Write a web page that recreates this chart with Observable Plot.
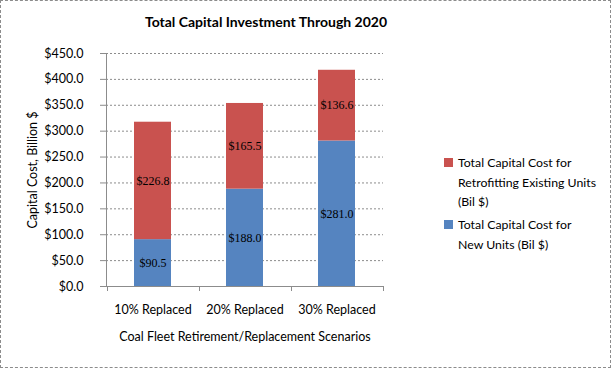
<!DOCTYPE html>
<html>
<head>
<meta charset="utf-8">
<script src="https://cdn.jsdelivr.net/npm/d3@7"></script>
<script src="https://cdn.jsdelivr.net/npm/@observablehq/plot@0.6"></script>
<style>
  html, body { margin: 0; padding: 0; background: #fff; }
  #wrap { position: relative; width: 612px; height: 369px; overflow: hidden; font-family: Lato, "Open Sans", sans-serif; }
  #border { position: absolute; left: 0; top: 0; width: 609px; height: 366px; border: 1px dashed #8c8c8c; box-sizing: content-box; pointer-events: none; }
  #title { position: absolute; left: 0; width: 532px; top: 13px; text-align: center; font-size: 14px; font-weight: bold; color: #000; }
  #chart { position: absolute; left: 0; top: 0; }
  .leg { position: absolute; left: 444px; font-size: 12.3px; color: #000; line-height: 19.5px; width: 165px; }
  .leg .sw { position: absolute; left: 0; top: 5px; width: 9px; height: 9px; }
  .leg .tx { margin-left: 14px; }
</style>
</head>
<body>
<div id="wrap">
  <div id="chart"></div>
  <div id="title"></div>
  <div id="legend"></div>
  <div id="border"></div>
</div>
<script>
const title = "Total Capital Investment Through 2020";
const scenarios = ["10% Replaced", "20% Replaced", "30% Replaced"];
const newUnits = [90.5, 188.0, 281.0];
const retrofit = [226.8, 165.5, 136.6];
const seriesNames = ["Total Capital Cost for New Units (Bil $)", "Total Capital Cost for Retrofitting Existing Units (Bil $)"];
const seriesColors = ["#5584c0", "#c9524f"];
const yTicks = [0, 50, 100, 150, 200, 250, 300, 350, 400, 450];
const yLabel = "Capital Cost, Billion $";
const xLabel = "Coal Fleet Retirement/Replacement Scenarios";

const rows = [];
scenarios.forEach((s, i) => {
  rows.push({scenario: s, series: seriesNames[0], value: newUnits[i]});
  rows.push({scenario: s, series: seriesNames[1], value: retrofit[i]});
});

document.getElementById("title").textContent = title;

// Axis lines and category-boundary tick marks drawn from the scales
function axesMark(index, scales, values, dims) {
  const g = d3.create("svg:g");
  const x0 = dims.marginLeft, x1 = dims.width - dims.marginRight;
  const yb = scales.y(0), yt = scales.y(450);
  g.append("line").attr("x1", x0 + 0.5).attr("x2", x0 + 0.5).attr("y1", yt).attr("y2", yb).attr("stroke", "#8c8c8c");
  g.append("line").attr("x1", x0).attr("x2", x1).attr("y1", yb + 0.5).attr("y2", yb + 0.5).attr("stroke", "#8c8c8c");
  const step = scales.x(scenarios[1]) - scales.x(scenarios[0]);
  const bw = scales.x.bandwidth ? scales.x.bandwidth() : 0;
  const start = scales.x(scenarios[0]) - (step - bw) / 2;
  for (let k = 0; k <= scenarios.length; k++) {
    const xx = Math.round(start + k * step) + 0.5;
    g.append("line").attr("x1", xx).attr("x2", xx).attr("y1", yb).attr("y2", yb + 5).attr("stroke", "#8c8c8c");
  }
  return g.node();
}

const chart = Plot.plot({
  width: 400,
  height: 369,
  marginLeft: 106,
  marginRight: 17,
  marginTop: 53,
  marginBottom: 83,
  style: {fontFamily: "Lato, 'Open Sans', sans-serif", fontSize: "12px", color: "#000", background: "transparent"},
  x: {domain: scenarios, paddingInner: 0.6, paddingOuter: 0.3, label: null},
  y: {domain: [0, 450], label: null},
  color: {domain: seriesNames, range: seriesColors},
  marks: [
    Plot.gridY(yTicks.slice(1), {stroke: "#8c8c8c", strokeOpacity: 1, strokeDasharray: "2,2"}),
    Plot.barY(rows, Plot.stackY({x: "scenario", y: "value", fill: "series", z: "series", order: seriesNames})),
    Plot.text(rows, Plot.stackY({x: "scenario", y: "value", z: "series", order: seriesNames, text: d => "$" + d.value.toFixed(1), fill: "#000", fontSize: 12, fontFamily: "'Liberation Serif', serif"})),
    axesMark,
    Plot.axisY({ticks: yTicks, tickFormat: d => "$" + d.toFixed(1), tickSize: 6, tickPadding: 17, stroke: "#8c8c8c", fontSize: 12.5, label: null}),
    Plot.axisX({tickSize: 0, tickPadding: 19, fontSize: 12.5, label: null}),
    Plot.text([yLabel], {frameAnchor: "left", textAnchor: "middle", dx: -74, rotate: -90, fontSize: 12.5, text: d => d}),
    Plot.text([xLabel], {frameAnchor: "bottom", dy: 54, fontSize: 12.5, text: d => d})
  ]
});
document.getElementById("chart").appendChild(chart);

// Legend (retrofit listed first, as in the reference)
const legend = document.getElementById("legend");
const legItems = [
  {name: seriesNames[1], color: seriesColors[1], top: 153, lines: ["Total Capital Cost for", "Retrofitting Existing Units", "(Bil $)"]},
  {name: seriesNames[0], color: seriesColors[0], top: 215, lines: ["Total Capital Cost for", "New Units (Bil $)"]}
];
legItems.forEach(it => {
  const d = document.createElement("div");
  d.className = "leg";
  d.style.top = it.top + "px";
  const sw = document.createElement("div");
  sw.className = "sw";
  sw.style.background = it.color;
  d.appendChild(sw);
  const tx = document.createElement("div");
  tx.className = "tx";
  tx.innerHTML = it.lines.map(l => l.replace(/&/g, "&amp;")).join("<br>");
  d.appendChild(tx);
  legend.appendChild(d);
});
</script>
</body>
</html>
